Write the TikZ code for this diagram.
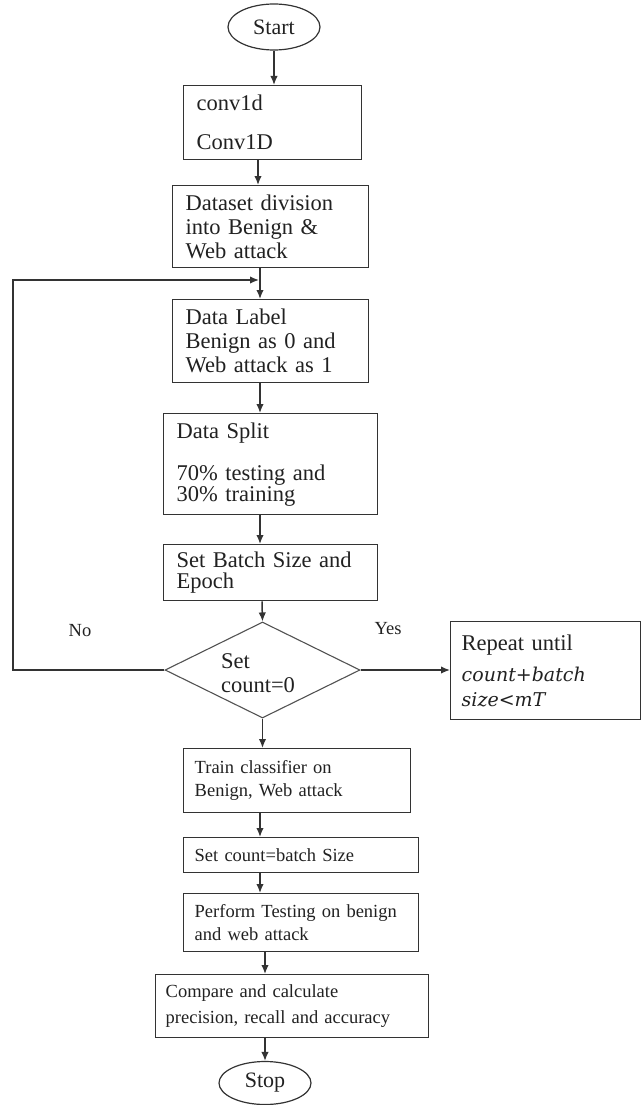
\documentclass[tikz,border=0pt]{standalone}
\usepackage{fontspec}
\setmainfont{Liberation Serif}
\newfontfamily\mathlike{DejaVu Serif}
\usetikzlibrary{shapes.geometric,arrows.meta,calc}
\definecolor{linec}{gray}{0.2}
\definecolor{textc}{gray}{0.13}
\hyphenpenalty=10000
\exhyphenpenalty=10000
\begin{document}
\begin{tikzpicture}[x=1pt,y=-1pt,
  txt/.style={font=\fontsize{22.5}{24}\selectfont, text=textc},
  smalltxt/.style={font=\fontsize{18.5}{23}\selectfont, text=textc},
  stepbox/.style={draw=linec, line width=1.4pt, rectangle, inner xsep=13pt, inner ysep=0pt,
     align=left, anchor=north west, txt},
  lowbox/.style={stepbox, smalltxt, inner xsep=11pt},
  term/.style={draw=linec, line width=1.2pt, ellipse, inner sep=0pt, font=\fontsize{22}{24}\selectfont, text=textc},
  arr/.style={draw=linec, line width=1.5pt, -{Latex[length=9pt,width=7.5pt]}},
]
\useasboundingbox (0,0) rectangle (642,1105);

% terminals
\node[term, minimum width=92pt, minimum height=46pt] (start) at (274,27) {Start};
\node[term, minimum width=92pt, minimum height=43pt] (stop) at (265,1083) {Stop};

% process boxes
\node[stepbox, minimum width=178pt, minimum height=74pt, text width=152pt, inner xsep=13pt] (b1) at (183,85)
  {conv1d\\[15pt]Conv1D};
\node[stepbox, minimum width=196pt, minimum height=82pt, text width=170pt] (b2) at (172,185)
  {Dataset division\\into Benign \&\\Web attack};
\node[stepbox, minimum width=196pt, minimum height=83pt, text width=170pt] (b3) at (172,299)
  {Data Label\\Benign as 0 and\\Web attack as 1};
\node[stepbox, minimum width=214pt, minimum height=101pt, text width=188pt] (b4) at (163,413)
  {Data Split\\[18pt]70\% testing and\\[-3pt]30\% training};
\node[stepbox, minimum width=214pt, minimum height=56pt, text width=188pt] (b5) at (163,544)
  {Set Batch Size and\\[-3pt]Epoch};

% decision
\node[draw=linec!85, line width=1.1pt, diamond, minimum width=195pt, minimum height=96pt,
      inner sep=0pt] (dia) at (262.5,670) {};
\node[txt, align=left, inner sep=0pt] (diatext) at (258,673) {Set\\count=0};

\node[stepbox, minimum width=190pt, minimum height=98pt, text width=168pt, inner xsep=11pt] (rep) at (450,621)
  {Repeat until\\[7pt]{\mathlike\itshape\fontsize{19}{24}\selectfont count+batch}\\[1pt]{\mathlike\itshape\fontsize{19}{24}\selectfont size<mT}};

\node[lowbox, minimum width=227pt, minimum height=64pt, text width=205pt] (b6) at (183,748)
  {Train classifier on\\Benign, Web attack};
\node[lowbox, minimum width=235pt, minimum height=35pt, text width=213pt] (b7) at (183,837)
  {Set count=batch Size};
\node[lowbox, minimum width=235pt, minimum height=58pt, text width=213pt] (b8) at (183,893)
  {Perform Testing on benign\\and web attack};
\node[lowbox, minimum width=273pt, minimum height=63pt, text width=253pt, inner xsep=10pt] (b9) at (155,974)
  {Compare and calculate\\[3pt]precision, recall and accuracy};

% labels
\node[smalltxt, inner sep=0pt] (nolab) at (80,631) {No};
\node[smalltxt, inner sep=0pt] (yeslab) at (388,629) {Yes};

% columns for arrows
\coordinate (c258) at (258,0);
\coordinate (c260) at (260,0);
\coordinate (c262) at (262,0);
\coordinate (c265) at (265,0);
\coordinate (fb) at (13,280);

% connectors
\draw[arr] (start.south) -- (start.south |- b1.north);
\draw[arr] (c258 |- b1.south) -- (c258 |- b2.north);
\draw[arr] (c260 |- b2.south) -- (c260 |- b3.north);
\draw[arr] (c260 |- b3.south) -- (c260 |- b4.north);
\draw[arr] (c260 |- b4.south) -- (c260 |- b5.north);
\draw[arr] (c262 |- b5.south) -- (dia.north);
\draw[arr] (dia.south) -- (dia.south |- b6.north);
\draw[arr] (c260 |- b6.south) -- (c260 |- b7.north);
\draw[arr] (c260 |- b7.south) -- (c260 |- b8.north);
\draw[arr] (c265 |- b8.south) -- (c265 |- b9.north);
\draw[arr] (c265 |- b9.south) -- (stop.north);
\draw[arr] (dia.east) -- (rep.west |- dia.east);
\draw[arr] (dia.west) -| (fb) -- ($(c260 |- fb)+(-1,0)$);
\end{tikzpicture}
\end{document}
